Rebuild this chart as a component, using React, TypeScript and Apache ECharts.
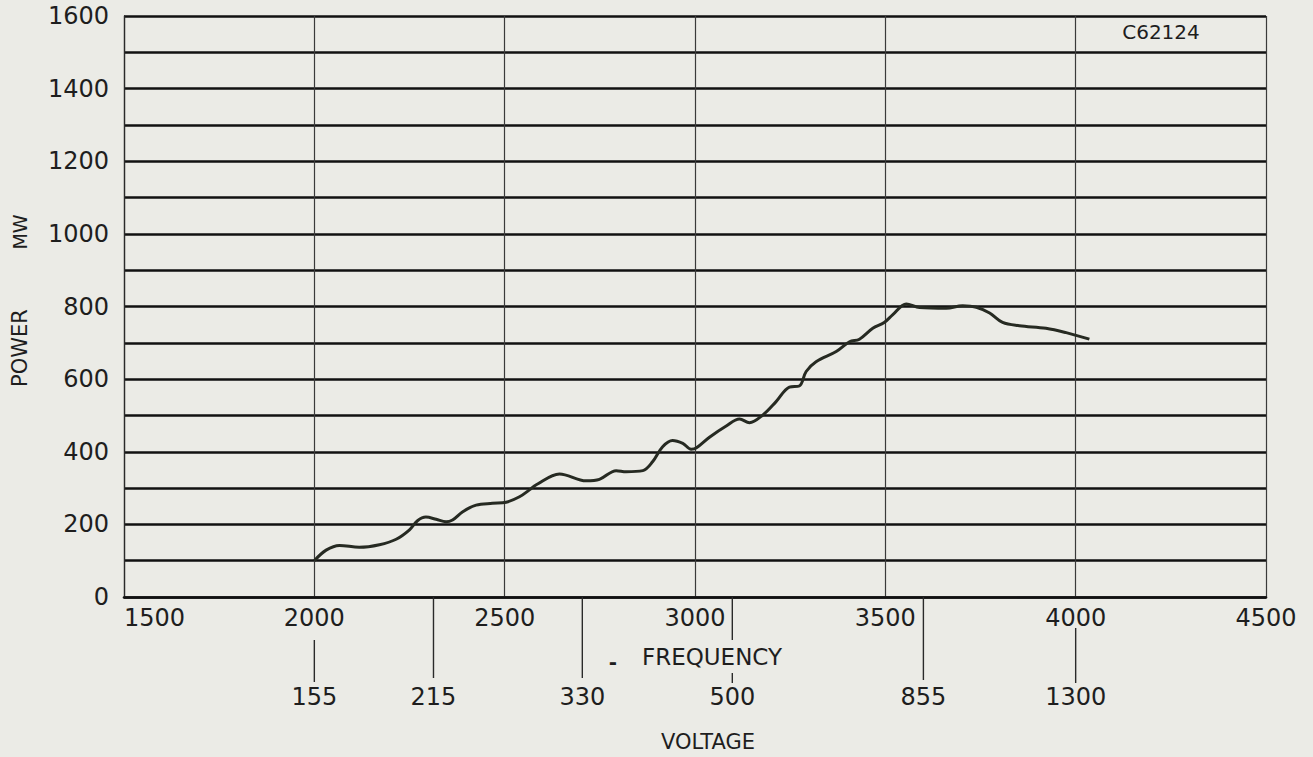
import React, { useEffect, useRef } from "react";
import * as echarts from "echarts";

// Frequency (x) vs Power MW (y) curve
const frequency = [2000, 2031, 2066, 2118, 2171, 2215, 2250, 2271, 2293, 2320, 2346, 2363, 2390, 2425, 2468, 2504, 2539, 2565, 2583, 2644, 2714, 2749, 2793, 2819, 2863, 2889, 2915, 2941, 2968, 2990, 3003, 3038, 3082, 3117, 3143, 3178, 3213, 3248, 3274, 3292, 3318, 3371, 3406, 3432, 3467, 3497, 3519, 3555, 3590, 3660, 3703, 3739, 3774, 3808, 3852, 3922, 3975, 4036];
const powerMW = [100, 129, 142, 137, 144, 159, 185, 210, 220, 214, 207, 212, 235, 253, 258, 261, 276, 295, 309, 339, 320, 324, 348, 345, 348, 373, 414, 431, 423, 407, 410, 440, 471, 490, 480, 501, 538, 578, 581, 621, 648, 676, 703, 710, 740, 756, 777, 807, 797, 795, 802, 798, 782, 756, 747, 740, 728, 710];

// Secondary voltage scale: voltage labels and the frequency they sit at
const voltageLabels = ["155", "215", "330", "500", "855", "1300"];
const voltageAtFrequency = [2000, 2313, 2704, 3098, 3600, 4000];

// Axis ranges / ticks
const xMin = 1500, xMax = 4500, xStep = 500;
const yMin = 0, yMax = 1600, yStep = 100, yLabelStep = 200;

// Styling for the voltage tick segments (pixel offsets below the axis line)
const tickSegments: number[][][] = [
  [[43, 85]],
  [[0, 81]],
  [[0, 81]],
  [[0, 43], [76, 86]],
  [[0, 83]],
  [[31, 86]],
];

const FONT = "DejaVu Sans";
const INK = "#1e1e1e";

export default function App() {
  const ref = useRef<HTMLDivElement>(null);
  useEffect(() => {
    if (!ref.current) return;
    const chart = echarts.init(ref.current, undefined, { renderer: "svg" });
    const option: any = {
      animation: false,
      backgroundColor: "#ebebe6",
      grid: { left: 124, right: 47, top: 16, bottom: 160, containLabel: false },
      xAxis: {
        type: "value",
        min: xMin,
        max: xMax,
        interval: xStep,
        axisLine: { show: true, lineStyle: { color: "#111111", width: 2.6 } },
        axisTick: { show: false },
        splitLine: { show: true, lineStyle: { color: "#3a3a3a", width: 1.2 } },
        axisLabel: {
          fontFamily: FONT,
          fontSize: 24,
          color: INK,
          margin: 9,
          alignMinLabel: "left",
          alignMaxLabel: "center",
          formatter: (v: number) => String(v),
        },
      },
      yAxis: {
        type: "value",
        min: yMin,
        max: yMax,
        interval: yStep,
        axisLine: { show: true, lineStyle: { color: "#2a2a2a", width: 1.3 } },
        axisTick: { show: false },
        splitLine: { show: true, lineStyle: { color: "#111111", width: 2.6 } },
        axisLabel: {
          fontFamily: FONT,
          fontSize: 24,
          color: INK,
          margin: 15,
          formatter: (v: number) => (v % yLabelStep === 0 ? String(v) : ""),
        },
      },
      series: [
        {
          type: "line",
          data: frequency.map((f, i) => [f, powerMW[i]]),
          smooth: 0.35,
          showSymbol: false,
          symbol: "none",
          lineStyle: { color: "#262a22", width: 3 },
          silent: true,
          z: 5,
        },
        {
          type: "custom",
          coordinateSystem: "cartesian2d",
          clip: false,
          silent: true,
          data: voltageAtFrequency.map((f, i) => [f, 0, i]),
          renderItem: (params: any, api: any) => {
            const i = api.value(2);
            const p = api.coord([api.value(0), 0]);
            const children: any[] = tickSegments[i].map(([a, b]) => ({
              type: "line",
              shape: { x1: p[0], y1: p[1] + a, x2: p[0], y2: p[1] + b },
              style: { stroke: "#2a2a2a", lineWidth: 1.4 },
            }));
            children.push({
              type: "text",
              style: {
                text: voltageLabels[i],
                x: p[0],
                y: p[1] + 100,
                align: "center",
                verticalAlign: "middle",
                fontSize: 24,
                fontFamily: FONT,
                fill: INK,
              },
            });
            return { type: "group", children };
          },
        },
      ],
      graphic: [
        {
          type: "text",
          x: 20,
          y: 348,
          rotation: Math.PI / 2,
          style: { text: "POWER", align: "center", verticalAlign: "middle", fontSize: 21, fontFamily: FONT, fill: INK },
        },
        {
          type: "text",
          x: 20,
          y: 232,
          rotation: Math.PI / 2,
          style: { text: "MW", align: "center", verticalAlign: "middle", fontSize: 19, fontFamily: FONT, fill: INK },
        },
        {
          type: "text",
          x: 712,
          y: 657,
          style: { text: "FREQUENCY", align: "center", verticalAlign: "middle", fontSize: 23, fontFamily: FONT, fill: INK },
        },
        {
          type: "text",
          x: 613,
          y: 662,
          style: { text: "-", align: "center", verticalAlign: "middle", fontSize: 20, fontFamily: FONT, fill: INK, fontWeight: "bold" },
        },
        {
          type: "text",
          x: 708,
          y: 742,
          style: { text: "VOLTAGE", align: "center", verticalAlign: "middle", fontSize: 21, fontFamily: FONT, fill: INK },
        },
        {
          type: "text",
          x: 1161,
          y: 32,
          style: { text: "C62124", align: "center", verticalAlign: "middle", fontSize: 20, fontFamily: FONT, fill: INK },
        },
      ],
    };
    chart.setOption(option);
    return () => chart.dispose();
  }, []);
  return (
    <div
      ref={ref}
      style={{ position: "absolute", left: 0, top: 0, width: 1313, height: 757 }}
    />
  );
}
